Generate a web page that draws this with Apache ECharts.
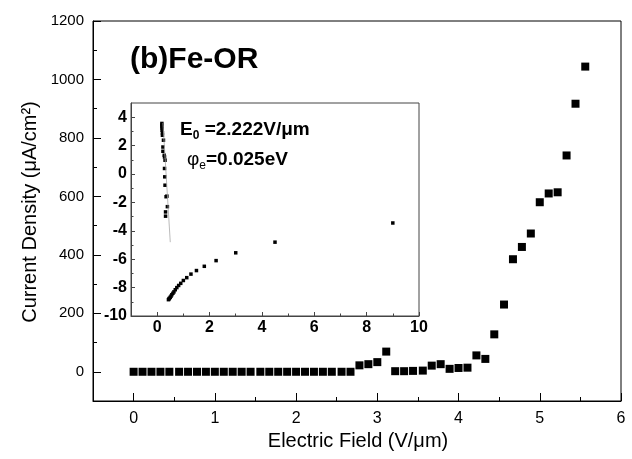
<!DOCTYPE html>
<html>
<head>
<meta charset="utf-8">
<script src="https://cdn.jsdelivr.net/npm/echarts@6/dist/echarts.min.js"></script>
<style>html,body{margin:0;padding:0;background:#fff;}#c{width:632px;height:459px;}</style>
</head>
<body>
<div id="c"></div>
<script>
// ---- main panel data ----
const electricField = [0, 0.11, 0.22, 0.33, 0.44, 0.56, 0.67, 0.78, 0.89, 1.0,
  1.11, 1.22, 1.33, 1.44, 1.56, 1.67, 1.78, 1.89, 2.0, 2.11,
  2.22, 2.33, 2.44, 2.56, 2.67, 2.78, 2.89, 3.0, 3.11, 3.22,
  3.33, 3.44, 3.56, 3.67, 3.78, 3.89, 4.0, 4.11, 4.22, 4.33,
  4.44, 4.56, 4.67, 4.78, 4.89, 5.0, 5.11, 5.22, 5.33, 5.44, 5.56];
const currentDensity = [0, 0, 0, 0, 0, 0, 0, 0, 0, 0,
  0, 0, 0, 0, 0, 0, 0, 0, 0, 0,
  0, 0, 0, 0, 0, 22, 26, 33, 69, 2,
  2, 3, 4, 21, 26, 10, 13, 14, 56, 44,
  128, 230, 385, 427, 473, 580, 610, 614, 740, 917, 1044];
const xTickLabels = [0, 1, 2, 3, 4, 5, 6];
const xMinorTicks = [0.5, 1.5, 2.5, 3.5, 4.5, 5.5];
const yTickLabels = [0, 200, 400, 600, 800, 1000, 1200];
const yMinorTicks = [100, 300, 500, 700, 900, 1100];

// ---- inset (F-N plot) data ----
const fnLowX = [9, 4.5, 3, 2.25, 1.8, 1.5, 1.29, 1.13, 1.0, 0.9, 0.82, 0.75, 0.69, 0.64, 0.6, 0.56, 0.53, 0.5, 0.47, 0.45, 0.43];
const fnLowY = [-3.45, -4.8, -5.55, -6.1, -6.5, -6.8, -7.05, -7.3, -7.5, -7.7, -7.85, -8.0, -8.15, -8.3, -8.4, -8.5, -8.6, -8.68, -8.75, -8.8, -8.85];
const fnHighX = [0.18, 0.18, 0.18, 0.19, 0.19, 0.2, 0.2, 0.24, 0.22, 0.22, 0.27, 0.28, 0.3, 0.28, 0.29, 0.3, 0.34, 0.37, 0.39, 0.32, 0.32];
const fnHighY = [3.56, 3.45, 3.32, 3.2, 3.08, 2.9, 2.73, 2.38, 1.9, 1.6, 1.32, 1.2, 0.97, 0.39, -0.2, -0.79, -1.6, -1.56, -2.3, -2.67, -2.97];
const fitLineX = [0.22, 0.5];
const fitLineY = [3.6, -4.8];
const insetXTicks = [0, 2, 4, 6, 8, 10];
const insetXMinor = [1, 3, 5, 7, 9];
const insetYTicks = [-10, -8, -6, -4, -2, 0, 2, 4];
const insetYMinor = [-9, -7, -5, -3, -1, 1, 3];

const FF = 'Arial, "Liberation Sans", sans-serif';
const zip = (a, b) => a.map((v, i) => [v, b[i]]);

const chart = echarts.init(document.getElementById('c'), null, {renderer: 'canvas'});

function majorAxis(grid, min, max, interval, ticks, len, fontSize, bold, margin, color, pos) {
  return {
    type: 'value', gridIndex: grid, min: min, max: max, interval: interval, position: pos,
    axisLine: {show: true, onZero: false, lineStyle: {color: color, width: 1}},
    axisTick: {show: true, inside: true, length: len, customValues: ticks, lineStyle: {color: color, width: 1}},
    axisLabel: {show: true, customValues: ticks, margin: margin, fontSize: fontSize,
      fontWeight: bold ? 'bold' : 'normal', color: '#000', fontFamily: FF,
      formatter: function (v) { return String(v); }},
    splitLine: {show: false}
  };
}
function minorAxis(grid, min, max, interval, ticks, len, color, pos) {
  return {
    type: 'value', gridIndex: grid, min: min, max: max, interval: interval, position: pos,
    axisLine: {show: false, onZero: false},
    axisTick: {show: true, inside: true, length: len, customValues: ticks, lineStyle: {color: color, width: 1}},
    axisLabel: {show: false},
    splitLine: {show: false}
  };
}

const option = {
  backgroundColor: '#fff',
  animation: false,
  grid: [
    {left: 93, top: 21, width: 528, height: 380, show: true, borderColor: '#000', borderWidth: 1},
    {left: 131, top: 103, width: 288, height: 213, show: true, borderColor: '#444', borderWidth: 1, backgroundColor: 'transparent'}
  ],
  xAxis: [
    majorAxis(0, -0.5, 6, 0.5, xTickLabels, 8, 16, false, 10, '#000', 'bottom'),
    minorAxis(0, -0.5, 6, 0.5, xMinorTicks, 4, '#000', 'bottom'),
    majorAxis(1, -1, 10, 1, insetXTicks, 4, 16, true, 4, '#444', 'bottom'),
    minorAxis(1, -1, 10, 1, insetXMinor, 2.5, '#444', 'bottom')
  ],
  yAxis: [
    majorAxis(0, -100, 1200, 100, yTickLabels, 8, 15, false, 9, '#000', 'left'),
    minorAxis(0, -100, 1200, 100, yMinorTicks, 4, '#000', 'left'),
    majorAxis(1, -10, 5, 1, insetYTicks, 4, 16, true, 4, '#444', 'left'),
    minorAxis(1, -10, 5, 1, insetYMinor, 2.5, '#444', 'left')
  ],
  series: [
    {type: 'scatter', xAxisIndex: 0, yAxisIndex: 0, symbol: 'rect', symbolSize: 8,
     itemStyle: {color: '#000', opacity: 1}, data: zip(electricField, currentDensity)},
    {type: 'line', xAxisIndex: 2, yAxisIndex: 2, symbol: 'none',
     lineStyle: {color: '#aaa', width: 0.8}, data: zip(fitLineX, fitLineY)},
    {type: 'scatter', xAxisIndex: 2, yAxisIndex: 2, symbol: 'rect', symbolSize: 3.5,
     itemStyle: {color: '#000', opacity: 1}, data: zip(fnLowX, fnLowY)},
    {type: 'scatter', xAxisIndex: 2, yAxisIndex: 2, symbol: 'rect', symbolSize: 3.5,
     itemStyle: {color: '#000', opacity: 1}, data: zip(fnHighX, fnHighY)}
  ],
  graphic: [
    {type: 'text', x: 130, y: 60, style: {text: '(b)Fe-OR', font: 'bold 30px ' + FF, fill: '#000', verticalAlign: 'middle', textVerticalAlign: 'middle'}},
    {type: 'text', x: 180, y: 130, style: {
      text: '{b|E}{s|0}{b| =2.222V/μm}', verticalAlign: 'middle', textVerticalAlign: 'middle',
      rich: {
        b: {font: 'bold 19px ' + FF, fill: '#000', lineHeight: 24, verticalAlign: 'middle'},
        s: {font: 'bold 12px ' + FF, fill: '#000', lineHeight: 24, verticalAlign: 'bottom'}
      }}},
    {type: 'text', x: 187, y: 160, style: {
      text: '{p|φ}{s|e}{b|=0.025eV}', verticalAlign: 'middle', textVerticalAlign: 'middle',
      rich: {
        p: {font: '19px ' + FF, fill: '#000', lineHeight: 24, verticalAlign: 'middle'},
        b: {font: 'bold 19px ' + FF, fill: '#000', lineHeight: 24, verticalAlign: 'middle'},
        s: {font: '12px ' + FF, fill: '#000', lineHeight: 24, verticalAlign: 'bottom'}
      }}},
    {type: 'text', x: 358, y: 441, style: {text: 'Electric Field (V/μm)', font: '20px ' + FF, fill: '#000', align: 'center', textAlign: 'center', verticalAlign: 'middle', textVerticalAlign: 'middle'}},
    {type: 'text', x: 30, y: 212, rotation: Math.PI / 2, style: {text: 'Current Density (μA/cm²)', font: '20px ' + FF, fill: '#000', align: 'center', textAlign: 'center', verticalAlign: 'middle', textVerticalAlign: 'middle'}}
  ]
};
chart.setOption(option);
</script>
</body>
</html>
